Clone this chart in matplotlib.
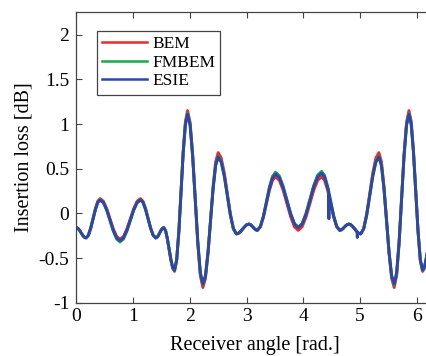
import matplotlib
matplotlib.use("Agg")
import matplotlib.pyplot as plt

# ---- data ----
angle = [
    0.000, 0.028, 0.057, 0.085, 0.113, 0.142,
    0.170, 0.212, 0.253, 0.295, 0.337, 0.378,
    0.420, 0.478, 0.537, 0.595, 0.653, 0.712,
    0.770, 0.830, 0.890, 0.950, 1.010, 1.070,
    1.130, 1.175, 1.220, 1.265, 1.310, 1.355,
    1.400, 1.423, 1.447, 1.470, 1.493, 1.517,
    1.540, 1.572, 1.603, 1.635, 1.667, 1.698,
    1.730, 1.768, 1.807, 1.845, 1.883, 1.922,
    1.960, 2.005, 2.050, 2.095, 2.140, 2.185,
    2.230, 2.275, 2.320, 2.365, 2.410, 2.455,
    2.500, 2.553, 2.607, 2.660, 2.713, 2.767,
    2.820, 2.857, 2.893, 2.930, 2.967, 3.003,
    3.040, 3.065, 3.090, 3.115, 3.140, 3.165,
    3.190, 3.243, 3.297, 3.350, 3.403, 3.457,
    3.510, 3.577, 3.643, 3.710, 3.777, 3.843,
    3.910, 3.978, 4.047, 4.115, 4.183, 4.252,
    4.320, 4.373, 4.427, 4.445, 4.450, 4.455, 4.480, 4.533, 4.587,
    4.640, 4.667, 4.693, 4.720, 4.747, 4.773,
    4.800, 4.835, 4.870, 4.905, 4.940, 4.945, 4.950, 4.955, 4.975,
    5.010, 5.063, 5.117, 5.170, 5.223, 5.277,
    5.330, 5.375, 5.420, 5.465, 5.510, 5.555,
    5.600, 5.643, 5.687, 5.730, 5.773, 5.817,
    5.860, 5.900, 5.940, 5.980, 6.020, 6.060,
    6.100, 6.131, 6.161, 6.192, 6.222, 6.253, 6.283,
]

bem = [
    -0.160, -0.168, -0.189, -0.218, -0.246, -0.267,
    -0.275, -0.246, -0.165, -0.055, 0.055, 0.136,
    0.165, 0.135, 0.051, -0.063, -0.176, -0.260,
    -0.290, -0.260, -0.176, -0.063, 0.051, 0.135,
    0.165, 0.136, 0.055, -0.055, -0.165, -0.246,
    -0.275, -0.267, -0.246, -0.218, -0.189, -0.168,
    -0.160, -0.193, -0.283, -0.405, -0.528, -0.617,
    -0.650, -0.529, -0.200, 0.250, 0.700, 1.029,
    1.150, 1.017, 0.655, 0.160, -0.335, -0.697,
    -0.830, -0.729, -0.453, -0.075, 0.303, 0.579,
    0.680, 0.619, 0.453, 0.225, -0.003, -0.169,
    -0.230, -0.223, -0.203, -0.175, -0.148, -0.127,
    -0.120, -0.125, -0.138, -0.155, -0.173, -0.185,
    -0.190, -0.150, -0.040, 0.110, 0.260, 0.370,
    0.410, 0.370, 0.260, 0.110, -0.040, -0.150,
    -0.190, -0.150, -0.040, 0.110, 0.260, 0.370,
    0.410, 0.370, 0.260, 0.211, 0.198, 0.183, 0.110, -0.040, -0.150,
    -0.190, -0.185, -0.173, -0.155, -0.138, -0.125,
    -0.120, -0.127, -0.148, -0.175, -0.203, -0.206, -0.210, -0.213, -0.223,
    -0.230, -0.169, -0.003, 0.225, 0.453, 0.619,
    0.680, 0.579, 0.303, -0.075, -0.453, -0.729,
    -0.830, -0.697, -0.335, 0.160, 0.655, 1.017,
    1.150, 1.029, 0.700, 0.250, -0.200, -0.529,
    -0.650, -0.617, -0.528, -0.405, -0.283, -0.193, -0.160,
]

fmbem = [
    -0.160, -0.168, -0.189, -0.218, -0.246, -0.267,
    -0.275, -0.247, -0.169, -0.063, 0.044, 0.122,
    0.150, 0.119, 0.033, -0.085, -0.203, -0.289,
    -0.320, -0.289, -0.203, -0.085, 0.033, 0.119,
    0.150, 0.122, 0.044, -0.063, -0.169, -0.247,
    -0.275, -0.267, -0.246, -0.218, -0.189, -0.168,
    -0.160, -0.192, -0.280, -0.400, -0.520, -0.608,
    -0.640, -0.522, -0.200, 0.240, 0.680, 1.002,
    1.120, 0.991, 0.640, 0.160, -0.320, -0.671,
    -0.800, -0.704, -0.440, -0.080, 0.280, 0.544,
    0.640, 0.582, 0.423, 0.205, -0.013, -0.172,
    -0.230, -0.223, -0.203, -0.175, -0.148, -0.127,
    -0.120, -0.125, -0.138, -0.155, -0.173, -0.185,
    -0.190, -0.146, -0.028, 0.135, 0.298, 0.416,
    0.460, 0.419, 0.306, 0.153, -0.001, -0.114,
    -0.155, -0.113, 0.001, 0.158, 0.314, 0.428,
    0.470, 0.426, 0.305, 0.252, 0.236, 0.220, 0.140, -0.025, -0.146,
    -0.190, -0.185, -0.173, -0.155, -0.138, -0.125,
    -0.120, -0.127, -0.148, -0.175, -0.203, -0.206, -0.210, -0.213, -0.223,
    -0.230, -0.172, -0.013, 0.205, 0.423, 0.582,
    0.640, 0.544, 0.280, -0.080, -0.440, -0.704,
    -0.800, -0.671, -0.320, 0.160, 0.640, 0.991,
    1.120, 1.002, 0.680, 0.240, -0.200, -0.522,
    -0.640, -0.608, -0.520, -0.400, -0.280, -0.192, -0.160,
]

esie = [
    -0.160, -0.168, -0.189, -0.218, -0.246, -0.267,
    -0.275, -0.247, -0.169, -0.063, 0.044, 0.122,
    0.150, 0.120, 0.036, -0.078, -0.191, -0.275,
    -0.305, -0.275, -0.191, -0.078, 0.036, 0.120,
    0.150, 0.122, 0.044, -0.063, -0.169, -0.247,
    -0.275, -0.267, -0.246, -0.218, -0.189, -0.168,
    -0.160, -0.192, -0.279, -0.398, -0.516, -0.603,
    -0.635, -0.518, -0.199, 0.238, 0.674, 0.993,
    1.110, 0.983, 0.635, 0.160, -0.315, -0.663,
    -0.790, -0.695, -0.435, -0.080, 0.275, 0.535,
    0.630, 0.572, 0.415, 0.200, -0.015, -0.172,
    -0.230, -0.223, -0.203, -0.175, -0.148, -0.127,
    -0.120, -0.125, -0.138, -0.155, -0.173, -0.185,
    -0.190, -0.148, -0.033, 0.125, 0.283, 0.398,
    0.440, 0.400, 0.290, 0.140, -0.010, -0.120,
    -0.160, -0.119, -0.008, 0.145, 0.298, 0.409,
    0.450, 0.407, 0.290, 0.250, -0.060, 0.208, 0.130, -0.030, -0.147,
    -0.190, -0.185, -0.173, -0.155, -0.138, -0.125,
    -0.120, -0.127, -0.148, -0.175, -0.203, -0.206, -0.270, -0.213, -0.223,
    -0.230, -0.172, -0.015, 0.200, 0.415, 0.572,
    0.630, 0.535, 0.275, -0.080, -0.435, -0.695,
    -0.790, -0.663, -0.315, 0.160, 0.635, 0.983,
    1.110, 0.993, 0.674, 0.238, -0.199, -0.518,
    -0.635, -0.603, -0.516, -0.398, -0.279, -0.192, -0.160,
]

series_names = ["BEM", "FMBEM", "ESIE"]
xticks = [0, 1, 2, 3, 4, 5, 6]
yticks = [-1, -0.5, 0, 0.5, 1, 1.5, 2]
ytick_labels = ["-1", "-0.5", "0", "0.5", "1", "1.5", "2"]

# ---- styling ----
plt.rcParams["font.family"] = ["Liberation Serif", "DejaVu Serif"]
plt.rcParams["axes.unicode_minus"] = False

fig = plt.figure(figsize=(4.27, 3.56), dpi=100)
ax = fig.add_axes([0.1787, 0.1497, 0.8353, 0.8157])

colors = ["#f02828", "#18a848", "#2d46aa"]
for ys, name, c in zip([bem, fmbem, esie], series_names, colors):
    ax.plot(angle, ys, color=c, lw=2.1, label=name, solid_joinstyle="round")

ax.set_xlim(0, 6.2832)
ax.set_ylim(-1, 2.25)
ax.set_xticks(xticks)
ax.set_xticklabels([str(t) for t in xticks])
ax.set_yticks(yticks)
ax.set_yticklabels(ytick_labels)
ax.tick_params(direction="in", length=4, width=0.8, top=True, right=False,
               labelsize=14, color="#444444", labelcolor="black", pad=5)
ax.tick_params(axis="x", pad=4)
ax.spines["right"].set_visible(False)
for sp in ax.spines.values():
    sp.set_linewidth(0.9)
    sp.set_color("#444444")

ax.set_xlabel("Receiver angle [rad.]", fontsize=14.5, labelpad=8)
ax.set_ylabel("Insertion loss [dB]", fontsize=14.5, labelpad=4)

leg = ax.legend(loc="upper left", bbox_to_anchor=(0.057, 0.937), borderaxespad=0,
                fancybox=False, edgecolor="#444444", framealpha=1, fontsize=12.5,
                handlelength=2.6, handletextpad=0.3, labelspacing=0.15,
                borderpad=0.3)
leg.get_frame().set_linewidth(0.9)
for h in leg.get_lines():
    h.set_linewidth(1.8)

fig.savefig("out.png", dpi=100)
